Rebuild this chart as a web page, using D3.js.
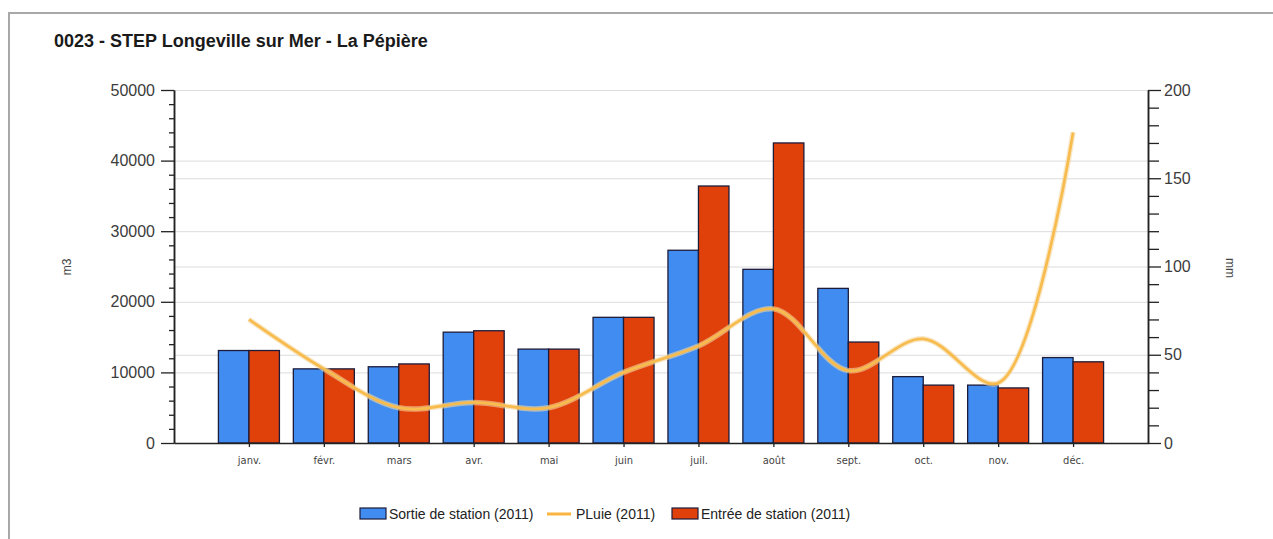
<!DOCTYPE html>
<html>
<head>
<meta charset="utf-8">
<script src="https://cdn.jsdelivr.net/npm/d3@7"></script>
<style>
  body { margin: 0; background: #fff; }
  svg { display: block; font-family: "Liberation Sans", Arial, sans-serif; }
</style>
</head>
<body>
<svg width="1273" height="539"></svg>
<script>
// données
var months = ["janv.", "févr.", "mars", "avr.", "mai", "juin", "juil.", "août", "sept.", "oct.", "nov.", "déc."];
var sortie = [13100, 10500, 10800, 15700, 13300, 17800, 27300, 24600, 21900, 9400, 8200, 12100];
var entree = [13100, 10500, 11200, 15900, 13300, 17800, 36400, 42500, 14300, 8200, 7800, 11500];
var pluie  = [70, 42, 20, 23, 20, 40, 55, 76, 41, 59, 34, 176];
var yTicks  = [0, 10000, 20000, 30000, 40000, 50000];
var y2Ticks = [0, 50, 100, 150, 200];
var title = "0023 - STEP Longeville sur Mer - La Pépière";

// couleurs
var C_BLUE = "#418cf0", C_RED = "#e0400a", C_LINE = "#fcb441";

// zone du graphique
var plotLeft = 174, plotRight = 1148, plotTop = 90, plotBottom = 443;

function draw(){
    var svg = d3.select("svg");

    // cadre
    svg.append("rect")
        .attr("x", 9).attr("y", 13).attr("width", 1300).attr("height", 540)
        .attr("fill", "none").attr("stroke", "#a8a8a8").attr("stroke-width", 2);

    svg.append("text")
        .attr("x", 54).attr("y", 47)
        .attr("font-size", "18px").attr("font-weight", "bold").attr("fill", "#1a1a1a")
        .text(title);

    var x = d3.scalePoint().domain(months).range([plotLeft, plotRight]).padding(1);
    var y = d3.scaleLinear().domain([0, 50000]).range([plotBottom, plotTop]);
    var y2 = d3.scaleLinear().domain([0, 200]).range([plotBottom, plotTop]);
    var inner = d3.scaleBand().domain(["s", "e"]).range([-30.5, 30.5]);

    // grille (deux axes)
    var grid = svg.append("g");
    grid.selectAll(".g1").data(yTicks.slice(1)).enter().append("line")
        .attr("x1", plotLeft).attr("x2", plotRight)
        .attr("y1", function(d){ return y(d) + 0.5; }).attr("y2", function(d){ return y(d) + 0.5; })
        .attr("stroke", "#dcdcdc");
    grid.selectAll(".g2").data(y2Ticks.slice(1)).enter().append("line")
        .attr("x1", plotLeft).attr("x2", plotRight)
        .attr("y1", function(d){ return y2(d) + 0.5; }).attr("y2", function(d){ return y2(d) + 0.5; })
        .attr("stroke", "#dcdcdc");

    // barres
    var g = svg.append("g");
    months.forEach(function(m, i){
        [["s", sortie[i], C_BLUE], ["e", entree[i], C_RED]].forEach(function(b){
            g.append("rect")
                .attr("x", x(m) + inner(b[0]))
                .attr("y", y(b[1]))
                .attr("width", inner.bandwidth())
                .attr("height", plotBottom - y(b[1]))
                .attr("fill", b[2])
                .attr("stroke", "#1c1c3a").attr("stroke-width", 1.3);
        });
    });

    // pluie
    var line = d3.line()
        .x(function(d, i){ return x(months[i]); })
        .y(function(d){ return y2(d); })
        .curve(d3.curveCatmullRom.alpha(0.5));
    svg.append("path").datum(pluie)
        .attr("d", line).attr("fill", "none")
        .attr("stroke", "#f3d9a4").attr("stroke-width", 5.5).attr("stroke-opacity", 0.6);
    svg.append("path").datum(pluie)
        .attr("d", line).attr("fill", "none")
        .attr("stroke", "#f8bc4e").attr("stroke-width", 2.8);

    // axes
    function styleAxis(sel){
        sel.select(".domain").attr("stroke", "#222").attr("stroke-width", 1.5);
        sel.selectAll(".tick line").attr("stroke", "#222").attr("stroke-width", 1.3);
        sel.selectAll("text").attr("fill", "#3c3c3c");
    }
    var minorL = d3.range(0, 50001, 2000).filter(function(d){ return d % 10000; });
    var minorR = d3.range(0, 201, 10).filter(function(d){ return d % 50; });

    svg.append("g").attr("transform", "translate(" + plotLeft + ",0)")
        .call(d3.axisLeft(y).tickValues(minorL).tickSize(5).tickSizeOuter(0).tickFormat(""))
        .call(styleAxis);
    svg.append("g").attr("transform", "translate(" + plotLeft + ",0)")
        .call(d3.axisLeft(y).tickValues(yTicks).tickSize(13).tickSizeOuter(0).tickPadding(6).tickFormat(d3.format("d")))
        .call(styleAxis)
        .selectAll("text").attr("font-size", "16px");

    svg.append("g").attr("transform", "translate(" + plotRight + ",0)")
        .call(d3.axisRight(y2).tickValues(minorR).tickSize(11).tickSizeOuter(0).tickFormat(""))
        .call(styleAxis);
    svg.append("g").attr("transform", "translate(" + plotRight + ",0)")
        .call(d3.axisRight(y2).tickValues(y2Ticks).tickSize(13).tickSizeOuter(0).tickPadding(3))
        .call(styleAxis)
        .selectAll("text").attr("font-size", "16px");

    svg.append("g").attr("transform", "translate(0," + plotBottom + ")")
        .call(d3.axisBottom(x).tickSize(4).tickSizeOuter(0).tickPadding(9))
        .call(styleAxis)
        .selectAll("text").attr("font-size", "11px").attr("fill", "#444")
        .attr("font-family", "'DejaVu Sans Condensed', 'DejaVu Sans', sans-serif");

    // titres d'axes
    svg.append("text")
        .attr("transform", "translate(71,267) rotate(-90)")
        .attr("text-anchor", "middle").attr("font-size", "12px").attr("fill", "#444")
        .text("m3");
    svg.append("text")
        .attr("transform", "translate(1226,268) rotate(90)")
        .attr("text-anchor", "middle").attr("font-size", "12px").attr("fill", "#444")
        .text("mm");

    // légende
    var legend = [
        { label: "Sortie de station (2011)", type: "rect", color: C_BLUE, x: 360 },
        { label: "PLuie (2011)", type: "line", color: C_LINE, x: 547 },
        { label: "Entrée de station (2011)", type: "rect", color: C_RED, x: 672 }
    ];
    var lg = svg.append("g");
    legend.forEach(function(d){
        if (d.type === "rect") {
            lg.append("rect").attr("x", d.x).attr("y", 508).attr("width", 26).attr("height", 11)
                .attr("fill", d.color).attr("stroke", "#1c1c3a").attr("stroke-width", 1.2);
        } else {
            lg.append("line").attr("x1", d.x).attr("x2", d.x + 24).attr("y1", 514).attr("y2", 514)
                .attr("stroke", d.color).attr("stroke-width", 3);
        }
        lg.append("text").attr("x", d.x + 29).attr("y", 519)
            .attr("font-size", "14px").attr("fill", "#222")
            .text(d.label);
    });
}

draw();
</script>
</body>
</html>
